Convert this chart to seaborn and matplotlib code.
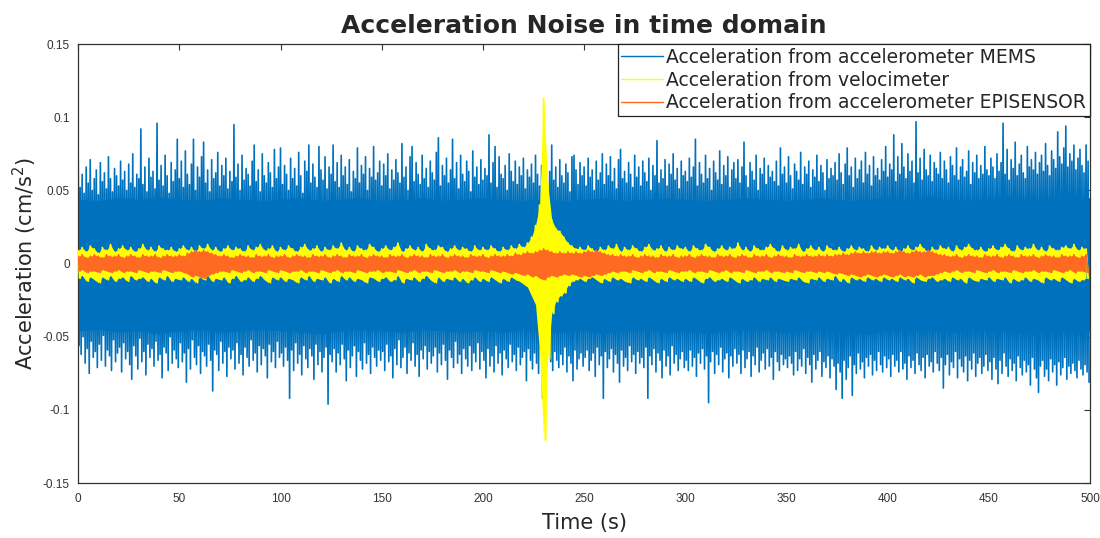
import matplotlib
matplotlib.use("Agg")
import matplotlib.pyplot as plt
import numpy as np
import pandas as pd
import seaborn as sns

# ---------------- data ----------------
MEMS_STEP = 1.0   # seconds between MEMS peak readings
STEP = 2.0        # seconds between velocimeter / EPISENSOR peak readings
CORE_STEP = 10.0  # seconds between readings of the solid MEMS core band
X_TICKS = [0, 50, 100, 150, 200, 250, 300, 350, 400, 450, 500]
Y_TICKS = [0.15, 0.1, 0.05, 0, -0.05, -0.1, -0.15]
Y_TICK_LABELS = ["0.15", "0.1", "0.05", "0", "-0.05", "-0.1", "-0.15"]
SERIES = ["Acceleration from accelerometer MEMS",
          "Acceleration from velocimeter",
          "Acceleration from accelerometer EPISENSOR"]

# MEMS positive peaks (t = 0, 1, 2, ... 499 s)
MEMS_UP = [
    0.087, 0.052, 0.061, 0.048, 0.066, 0.055, 0.071, 0.050, 0.058, 0.064, 0.047, 0.069, 0.056, 0.062, 0.051, 0.073, 0.058, 0.049, 0.065, 0.060, 0.053, 0.070, 0.057, 0.063, 0.050,
    0.068, 0.055, 0.075, 0.052, 0.061, 0.058, 0.092, 0.054, 0.066, 0.049, 0.072, 0.059, 0.063, 0.051, 0.096, 0.057, 0.067, 0.053, 0.074, 0.060, 0.048, 0.069, 0.056, 0.064, 0.085,
    0.058, 0.070, 0.052, 0.077, 0.061, 0.054, 0.068, 0.085, 0.050, 0.066, 0.059, 0.073, 0.083, 0.055, 0.064, 0.049, 0.071, 0.058, 0.062, 0.076, 0.053, 0.067, 0.060, 0.072, 0.051,
    0.063, 0.056, 0.095, 0.059, 0.068, 0.050, 0.074, 0.057, 0.065, 0.061, 0.053, 0.070, 0.081, 0.056, 0.064, 0.049, 0.075, 0.060, 0.055, 0.069, 0.062, 0.052, 0.078, 0.058, 0.066,
    0.079, 0.054, 0.067, 0.061, 0.050, 0.072, 0.058, 0.065, 0.053, 0.076, 0.060, 0.048, 0.070, 0.063, 0.081, 0.055, 0.068, 0.059, 0.052, 0.080, 0.064, 0.057, 0.073, 0.051, 0.066,
    0.061, 0.081, 0.056, 0.069, 0.052, 0.074, 0.060, 0.066, 0.054, 0.071, 0.049, 0.063, 0.058, 0.079, 0.055, 0.067, 0.061, 0.073, 0.050, 0.065, 0.059, 0.080, 0.057, 0.062, 0.070,
    0.053, 0.068, 0.060, 0.075, 0.051, 0.064, 0.057, 0.071, 0.062, 0.055, 0.082, 0.059, 0.066, 0.050, 0.073, 0.080, 0.056, 0.069, 0.061, 0.054, 0.074, 0.058, 0.065, 0.052, 0.070,
    0.062, 0.057, 0.076, 0.086, 0.053, 0.067, 0.060, 0.072, 0.055, 0.064, 0.085, 0.058, 0.069, 0.051, 0.074, 0.061, 0.056, 0.070, 0.063, 0.049, 0.077, 0.059, 0.066, 0.054, 0.071,
    0.057, 0.065, 0.060, 0.088, 0.055, 0.069, 0.080, 0.052, 0.073, 0.061, 0.058, 0.067, 0.050, 0.075, 0.063, 0.056, 0.070, 0.054, 0.066, 0.060, 0.072, 0.051, 0.064, 0.059, 0.068,
    0.055, 0.074, 0.061, 0.053, 0.067, 0.058, 0.070, 0.050, 0.063, 0.081, 0.057, 0.066, 0.052, 0.071, 0.060, 0.055, 0.068, 0.062, 0.049, 0.073, 0.074, 0.064, 0.054, 0.069, 0.060,
    0.066, 0.053, 0.072, 0.059, 0.064, 0.050, 0.070, 0.057, 0.062, 0.075, 0.054, 0.068, 0.060, 0.073, 0.056, 0.065, 0.051, 0.071, 0.078, 0.058, 0.063, 0.055, 0.069, 0.061, 0.052,
    0.074, 0.059, 0.066, 0.053, 0.070, 0.062, 0.056, 0.072, 0.050, 0.067, 0.060, 0.084, 0.055, 0.064, 0.058, 0.071, 0.053, 0.068, 0.061, 0.075, 0.057, 0.065, 0.051, 0.070, 0.060,
    0.063, 0.056, 0.072, 0.059, 0.066, 0.085, 0.053, 0.069, 0.061, 0.055, 0.074, 0.058, 0.065, 0.050, 0.070, 0.062, 0.057, 0.077, 0.054, 0.067, 0.060, 0.073, 0.052, 0.064, 0.069,
    0.058, 0.071, 0.055, 0.066, 0.083, 0.060, 0.052, 0.069, 0.063, 0.057, 0.074, 0.050, 0.065, 0.061, 0.072, 0.054, 0.067, 0.059, 0.063, 0.056, 0.070, 0.053, 0.079, 0.061, 0.066,
    0.055, 0.073, 0.060, 0.051, 0.068, 0.063, 0.057, 0.076, 0.054, 0.066, 0.061, 0.070, 0.052, 0.064, 0.059, 0.074, 0.056, 0.067, 0.062, 0.050, 0.071, 0.058, 0.065, 0.060, 0.069,
    0.057, 0.075, 0.062, 0.054, 0.068, 0.079, 0.060, 0.066, 0.052, 0.072, 0.058, 0.064, 0.070, 0.055, 0.076, 0.061, 0.067, 0.053, 0.073, 0.060, 0.065, 0.057, 0.071, 0.063, 0.080,
    0.059, 0.068, 0.064, 0.088, 0.056, 0.073, 0.061, 0.082, 0.066, 0.058, 0.075, 0.063, 0.070, 0.055, 0.097, 0.062, 0.072, 0.057, 0.078, 0.064, 0.060, 0.074, 0.056, 0.069, 0.065,
    0.061, 0.076, 0.058, 0.070, 0.064, 0.055, 0.073, 0.067, 0.060, 0.079, 0.057, 0.066, 0.071, 0.059, 0.063, 0.077, 0.054, 0.069, 0.062, 0.074, 0.058, 0.067, 0.061, 0.080, 0.064,
    0.060, 0.072, 0.066, 0.058, 0.075, 0.063, 0.069, 0.096, 0.061, 0.078, 0.057, 0.071, 0.065, 0.083, 0.060, 0.068, 0.074, 0.062, 0.058, 0.080, 0.066, 0.071, 0.064, 0.076, 0.061,
    0.069, 0.074, 0.063, 0.082, 0.067, 0.060, 0.077, 0.071, 0.065, 0.090, 0.073, 0.068, 0.079, 0.094, 0.066, 0.075, 0.070, 0.081, 0.064, 0.072, 0.078, 0.067, 0.062, 0.081, 0.070,
]
# MEMS negative peaks (t = 0.5, 1.5, ... 499.5 s)
MEMS_LO = [
    -0.056, -0.062, -0.050, -0.068, -0.058, -0.075, -0.053, -0.064, -0.060, -0.071, -0.055, -0.066, -0.049, -0.070, -0.059, -0.063, -0.073, -0.052, -0.067, -0.061, -0.057, -0.074, -0.054, -0.065, -0.060,
    -0.069, -0.079, -0.056, -0.063, -0.072, -0.051, -0.067, -0.060, -0.076, -0.055, -0.064, -0.058, -0.070, -0.053, -0.066, -0.062, -0.078, -0.057, -0.061, -0.073, -0.050, -0.068, -0.059, -0.065, -0.071,
    -0.054, -0.067, -0.061, -0.081, -0.058, -0.072, -0.052, -0.064, -0.069, -0.056, -0.075, -0.060, -0.063, -0.070, -0.055, -0.066, -0.087, -0.059, -0.062, -0.073, -0.053, -0.068, -0.060, -0.077, -0.057,
    -0.065, -0.059, -0.072, -0.054, -0.068, -0.062, -0.076, -0.057, -0.064, -0.070, -0.052, -0.066, -0.061, -0.074, -0.056, -0.069, -0.058, -0.063, -0.078, -0.055, -0.067, -0.060, -0.071, -0.053, -0.064,
    -0.061, -0.070, -0.057, -0.066, -0.092, -0.059, -0.073, -0.054, -0.068, -0.062, -0.076, -0.056, -0.065, -0.071, -0.058, -0.063, -0.079, -0.055, -0.069, -0.060, -0.074, -0.064, -0.057, -0.096, -0.062,
    -0.067, -0.058, -0.074, -0.061, -0.069, -0.055, -0.065, -0.080, -0.059, -0.071, -0.063, -0.056, -0.077, -0.060, -0.066, -0.072, -0.054, -0.068, -0.062, -0.075, -0.057, -0.064, -0.070, -0.059, -0.066,
    -0.060, -0.073, -0.055, -0.067, -0.063, -0.078, -0.058, -0.069, -0.052, -0.071, -0.064, -0.057, -0.075, -0.061, -0.066, -0.054, -0.070, -0.062, -0.077, -0.059, -0.065, -0.056, -0.072, -0.060, -0.068,
    -0.063, -0.057, -0.074, -0.061, -0.069, -0.055, -0.066, -0.079, -0.059, -0.064, -0.071, -0.053, -0.068, -0.062, -0.075, -0.058, -0.065, -0.070, -0.056, -0.073, -0.061, -0.067, -0.054, -0.072, -0.060,
    -0.066, -0.078, -0.058, -0.070, -0.063, -0.074, -0.056, -0.068, -0.061, -0.076, -0.059, -0.065, -0.071, -0.055, -0.067, -0.062, -0.073, -0.057, -0.069, -0.064, -0.060, -0.080, -0.058, -0.066, -0.072,
    -0.061, -0.068, -0.075, -0.058, -0.092, -0.064, -0.070, -0.056, -0.067, -0.073, -0.060, -0.066, -0.071, -0.062, -0.069, -0.057, -0.074, -0.063, -0.068, -0.080, -0.059, -0.072, -0.065, -0.061, -0.070,
    -0.064, -0.059, -0.073, -0.066, -0.061, -0.077, -0.057, -0.069, -0.063, -0.092, -0.060, -0.071, -0.065, -0.058, -0.074, -0.062, -0.068, -0.081, -0.059, -0.070, -0.064, -0.073, -0.056, -0.067, -0.062,
    -0.075, -0.060, -0.068, -0.064, -0.071, -0.057, -0.092, -0.063, -0.069, -0.058, -0.074, -0.061, -0.066, -0.078, -0.059, -0.070, -0.063, -0.076, -0.056, -0.068, -0.062, -0.073, -0.065, -0.060, -0.071,
    -0.066, -0.073, -0.059, -0.070, -0.064, -0.077, -0.061, -0.068, -0.058, -0.072, -0.063, -0.095, -0.067, -0.060, -0.075, -0.062, -0.069, -0.057, -0.074, -0.065, -0.061, -0.078, -0.063, -0.070, -0.058,
    -0.068, -0.062, -0.075, -0.059, -0.071, -0.065, -0.060, -0.077, -0.063, -0.069, -0.057, -0.074, -0.066, -0.061, -0.072, -0.058, -0.070, -0.064, -0.079, -0.060, -0.067, -0.073, -0.062, -0.069, -0.065,
    -0.071, -0.063, -0.068, -0.076, -0.060, -0.073, -0.065, -0.070, -0.058, -0.075, -0.064, -0.069, -0.081, -0.062, -0.072, -0.066, -0.060, -0.077, -0.067, -0.071, -0.063, -0.078, -0.065, -0.070, -0.086,
    -0.068, -0.074, -0.092, -0.066, -0.079, -0.071, -0.063, -0.090, -0.069, -0.075, -0.061, -0.072, -0.067, -0.078, -0.064, -0.070, -0.062, -0.076, -0.066, -0.073, -0.060, -0.069, -0.074, -0.063, -0.071,
    -0.065, -0.077, -0.062, -0.070, -0.066, -0.074, -0.060, -0.072, -0.068, -0.079, -0.063, -0.071, -0.066, -0.075, -0.061, -0.069, -0.073, -0.064, -0.078, -0.062, -0.070, -0.067, -0.074, -0.060, -0.068,
    -0.073, -0.064, -0.085, -0.069, -0.062, -0.076, -0.067, -0.071, -0.060, -0.078, -0.065, -0.070, -0.074, -0.063, -0.080, -0.066, -0.072, -0.061, -0.077, -0.068, -0.064, -0.075, -0.070, -0.062, -0.073,
    -0.067, -0.079, -0.064, -0.072, -0.082, -0.066, -0.075, -0.061, -0.070, -0.077, -0.065, -0.073, -0.068, -0.080, -0.063, -0.071, -0.076, -0.066, -0.074, -0.069, -0.083, -0.064, -0.072, -0.078, -0.088,
    -0.070, -0.066, -0.077, -0.072, -0.080, -0.065, -0.074, -0.069, -0.083, -0.067, -0.076, -0.071, -0.064, -0.079, -0.070, -0.075, -0.068, -0.073, -0.078, -0.066, -0.072, -0.076, -0.069, -0.074, -0.081,
]
# solid core of the MEMS band (t = 0, 10, ... 500 s)
MEMS_CORE_UP = [0.044, 0.043, 0.045, 0.044, 0.046, 0.044, 0.043, 0.045, 0.044, 0.043, 0.044,
                0.045, 0.043, 0.044, 0.045, 0.043, 0.044, 0.045, 0.043, 0.044, 0.045, 0.044,
                0.043, 0.044, 0.043, 0.044, 0.045, 0.043, 0.044, 0.045, 0.044, 0.043, 0.044,
                0.045, 0.044, 0.043, 0.044, 0.045, 0.043, 0.044, 0.045, 0.044, 0.046, 0.044,
                0.043, 0.045, 0.046, 0.044, 0.045, 0.046, 0.045]
MEMS_CORE_LO = [-0.046, -0.045, -0.047, -0.046, -0.048, -0.046, -0.045, -0.047, -0.046, -0.045, -0.046,
                -0.047, -0.048, -0.046, -0.045, -0.046, -0.047, -0.045, -0.046, -0.047, -0.046, -0.047,
                -0.045, -0.046, -0.047, -0.046, -0.048, -0.046, -0.045, -0.047, -0.046, -0.048, -0.046,
                -0.045, -0.046, -0.047, -0.046, -0.045, -0.047, -0.048, -0.046, -0.045, -0.046, -0.047,
                -0.046, -0.045, -0.047, -0.048, -0.046, -0.047, -0.046]
# velocimeter positive / negative peaks (t = 0, 2, ... 498 s)
VEL_UP = [
    0.009, 0.011, 0.008, 0.012, 0.010, 0.007, 0.011, 0.009, 0.013, 0.008, 0.010, 0.012, 0.009, 0.011, 0.008, 0.010, 0.013, 0.009, 0.011, 0.008, 0.012, 0.010, 0.009, 0.011, 0.008,
    0.010, 0.012, 0.009, 0.011, 0.008, 0.012, 0.010, 0.013, 0.009, 0.011, 0.008, 0.010, 0.012, 0.009, 0.011, 0.010, 0.008, 0.012, 0.009, 0.011, 0.013, 0.009, 0.010, 0.012, 0.008,
    0.011, 0.009, 0.012, 0.010, 0.008, 0.011, 0.013, 0.009, 0.010, 0.012, 0.008, 0.011, 0.009, 0.012, 0.010, 0.014, 0.009, 0.011, 0.008, 0.012, 0.010, 0.009, 0.013, 0.011, 0.008,
    0.010, 0.012, 0.009, 0.011, 0.014, 0.008, 0.010, 0.012, 0.009, 0.011, 0.008, 0.013, 0.010, 0.009, 0.012, 0.011, 0.008, 0.010, 0.012, 0.009, 0.011, 0.010, 0.008, 0.012, 0.009,
    0.011, 0.009, 0.012, 0.010, 0.008, 0.011, 0.009, 0.012, 0.010, 0.013, 0.011, 0.014, 0.018, 0.026, 0.040, 0.113, 0.055, 0.030, 0.024, 0.022, 0.018, 0.014, 0.012, 0.010, 0.011,
    0.009, 0.012, 0.010, 0.008, 0.011, 0.009, 0.012, 0.010, 0.013, 0.008, 0.011, 0.009, 0.012, 0.010, 0.008, 0.011, 0.013, 0.009, 0.010, 0.012, 0.008, 0.011, 0.009, 0.012, 0.010,
    0.011, 0.008, 0.012, 0.010, 0.009, 0.013, 0.011, 0.008, 0.010, 0.012, 0.009, 0.011, 0.010, 0.014, 0.009, 0.011, 0.008, 0.012, 0.010, 0.009, 0.011, 0.013, 0.010, 0.008, 0.012,
    0.009, 0.011, 0.010, 0.013, 0.008, 0.010, 0.012, 0.009, 0.011, 0.008, 0.012, 0.010, 0.009, 0.011, 0.008, 0.010, 0.012, 0.009, 0.011, 0.010, 0.008, 0.012, 0.009, 0.011, 0.010,
    0.012, 0.009, 0.011, 0.008, 0.010, 0.012, 0.009, 0.011, 0.013, 0.010, 0.008, 0.011, 0.009, 0.012, 0.010, 0.011, 0.008, 0.012, 0.009, 0.011, 0.013, 0.010, 0.009, 0.011, 0.008,
    0.010, 0.012, 0.009, 0.011, 0.013, 0.010, 0.008, 0.012, 0.009, 0.011, 0.010, 0.013, 0.009, 0.011, 0.008, 0.012, 0.010, 0.009, 0.011, 0.012, 0.010, 0.013, 0.009, 0.011, 0.010,
]
VEL_LO = [
    -0.010, -0.008, -0.012, -0.009, -0.011, -0.013, -0.009, -0.011, -0.008, -0.012, -0.010, -0.009, -0.012, -0.008, -0.011, -0.010, -0.009, -0.012, -0.010, -0.013, -0.009, -0.011, -0.008, -0.012, -0.010,
    -0.011, -0.009, -0.012, -0.010, -0.013, -0.009, -0.011, -0.008, -0.012, -0.010, -0.011, -0.009, -0.013, -0.010, -0.008, -0.012, -0.011, -0.009, -0.012, -0.010, -0.008, -0.011, -0.013, -0.009, -0.011,
    -0.009, -0.012, -0.010, -0.011, -0.013, -0.009, -0.011, -0.008, -0.012, -0.010, -0.011, -0.009, -0.013, -0.010, -0.012, -0.008, -0.011, -0.009, -0.012, -0.010, -0.011, -0.013, -0.009, -0.010, -0.012,
    -0.010, -0.009, -0.012, -0.011, -0.008, -0.013, -0.010, -0.011, -0.009, -0.012, -0.010, -0.008, -0.011, -0.013, -0.009, -0.012, -0.010, -0.011, -0.009, -0.012, -0.010, -0.013, -0.011, -0.009, -0.012,
    -0.010, -0.012, -0.009, -0.011, -0.013, -0.010, -0.012, -0.009, -0.011, -0.012, -0.014, -0.016, -0.022, -0.028, -0.060, -0.121, -0.065, -0.034, -0.026, -0.022, -0.020, -0.015, -0.012, -0.011, -0.010,
    -0.012, -0.010, -0.009, -0.011, -0.013, -0.010, -0.012, -0.009, -0.011, -0.010, -0.012, -0.013, -0.009, -0.011, -0.010, -0.012, -0.009, -0.011, -0.013, -0.010, -0.012, -0.009, -0.011, -0.010, -0.012,
    -0.010, -0.012, -0.009, -0.011, -0.013, -0.010, -0.009, -0.012, -0.011, -0.010, -0.012, -0.009, -0.011, -0.013, -0.010, -0.012, -0.011, -0.009, -0.012, -0.010, -0.011, -0.009, -0.012, -0.010, -0.011,
    -0.012, -0.010, -0.011, -0.009, -0.012, -0.013, -0.010, -0.011, -0.009, -0.012, -0.010, -0.011, -0.008, -0.012, -0.010, -0.013, -0.009, -0.011, -0.010, -0.012, -0.009, -0.011, -0.010, -0.012, -0.009,
    -0.011, -0.010, -0.012, -0.009, -0.011, -0.010, -0.013, -0.009, -0.011, -0.012, -0.010, -0.009, -0.012, -0.011, -0.010, -0.012, -0.009, -0.011, -0.010, -0.013, -0.009, -0.011, -0.012, -0.010, -0.011,
    -0.009, -0.012, -0.010, -0.011, -0.009, -0.013, -0.010, -0.012, -0.011, -0.009, -0.012, -0.010, -0.011, -0.013, -0.009, -0.011, -0.010, -0.012, -0.009, -0.011, -0.013, -0.010, -0.012, -0.011, -0.010,
]
# EPISENSOR positive / negative peaks (t = 0, 2, ... 498 s)
EPI_UP = [
    0.005, 0.006, 0.004, 0.005, 0.006, 0.005, 0.004, 0.006, 0.005, 0.005, 0.006, 0.004, 0.005, 0.006, 0.005, 0.004, 0.006, 0.005, 0.005, 0.006, 0.004, 0.005, 0.006, 0.005, 0.005,
    0.006, 0.005, 0.007, 0.008, 0.009, 0.008, 0.009, 0.008, 0.007, 0.006, 0.005, 0.006, 0.005, 0.004, 0.005, 0.006, 0.005, 0.005, 0.004, 0.006, 0.005, 0.005, 0.006, 0.004, 0.005,
    0.005, 0.006, 0.004, 0.005, 0.006, 0.005, 0.005, 0.004, 0.006, 0.005, 0.005, 0.006, 0.004, 0.005, 0.006, 0.005, 0.004, 0.006, 0.005, 0.005, 0.006, 0.004, 0.005, 0.006, 0.005,
    0.005, 0.004, 0.006, 0.005, 0.005, 0.006, 0.004, 0.005, 0.006, 0.005, 0.005, 0.004, 0.006, 0.005, 0.005, 0.006, 0.004, 0.005, 0.006, 0.005, 0.005, 0.004, 0.006, 0.005, 0.005,
    0.006, 0.004, 0.005, 0.006, 0.005, 0.005, 0.006, 0.005, 0.007, 0.006, 0.007, 0.008, 0.007, 0.008, 0.009, 0.010, 0.009, 0.008, 0.007, 0.008, 0.007, 0.008, 0.007, 0.008, 0.007,
    0.008, 0.009, 0.008, 0.009, 0.008, 0.007, 0.006, 0.006, 0.005, 0.006, 0.005, 0.005, 0.006, 0.004, 0.005, 0.006, 0.005, 0.005, 0.004, 0.006, 0.005, 0.005, 0.006, 0.004, 0.005,
    0.005, 0.006, 0.004, 0.005, 0.006, 0.005, 0.005, 0.004, 0.006, 0.005, 0.005, 0.006, 0.004, 0.005, 0.006, 0.005, 0.004, 0.006, 0.005, 0.005, 0.006, 0.004, 0.005, 0.006, 0.005,
    0.005, 0.004, 0.006, 0.005, 0.005, 0.006, 0.005, 0.005, 0.006, 0.005, 0.006, 0.005, 0.006, 0.006, 0.007, 0.006, 0.007, 0.008, 0.007, 0.008, 0.007, 0.008, 0.008, 0.007, 0.008,
    0.008, 0.007, 0.008, 0.009, 0.008, 0.007, 0.008, 0.009, 0.008, 0.008, 0.009, 0.008, 0.007, 0.006, 0.006, 0.005, 0.005, 0.006, 0.004, 0.005, 0.006, 0.005, 0.005, 0.004, 0.006,
    0.005, 0.005, 0.006, 0.004, 0.005, 0.006, 0.005, 0.004, 0.006, 0.005, 0.005, 0.006, 0.004, 0.005, 0.006, 0.005, 0.005, 0.004, 0.006, 0.005, 0.005, 0.006, 0.004, 0.005, 0.006,
]
EPI_LO = [
    -0.005, -0.004, -0.006, -0.005, -0.005, -0.006, -0.004, -0.005, -0.006, -0.005, -0.004, -0.006, -0.005, -0.005, -0.006, -0.004, -0.005, -0.006, -0.005, -0.005, -0.006, -0.004, -0.005, -0.006, -0.005,
    -0.005, -0.006, -0.007, -0.009, -0.008, -0.009, -0.010, -0.008, -0.007, -0.006, -0.005, -0.005, -0.006, -0.004, -0.005, -0.006, -0.005, -0.004, -0.006, -0.005, -0.005, -0.006, -0.004, -0.005, -0.006,
    -0.004, -0.005, -0.006, -0.005, -0.005, -0.004, -0.006, -0.005, -0.005, -0.006, -0.004, -0.005, -0.006, -0.005, -0.004, -0.006, -0.005, -0.005, -0.006, -0.004, -0.005, -0.006, -0.005, -0.005, -0.004,
    -0.006, -0.005, -0.005, -0.006, -0.004, -0.005, -0.006, -0.005, -0.004, -0.006, -0.005, -0.005, -0.006, -0.004, -0.005, -0.006, -0.005, -0.005, -0.004, -0.006, -0.005, -0.005, -0.006, -0.004, -0.005,
    -0.005, -0.006, -0.004, -0.005, -0.006, -0.005, -0.006, -0.007, -0.006, -0.007, -0.008, -0.007, -0.009, -0.008, -0.010, -0.011, -0.009, -0.008, -0.009, -0.008, -0.007, -0.008, -0.007, -0.008, -0.009,
    -0.008, -0.009, -0.008, -0.007, -0.008, -0.007, -0.006, -0.005, -0.006, -0.005, -0.005, -0.006, -0.004, -0.005, -0.006, -0.005, -0.004, -0.006, -0.005, -0.005, -0.006, -0.004, -0.005, -0.006, -0.005,
    -0.005, -0.004, -0.006, -0.005, -0.005, -0.006, -0.004, -0.005, -0.006, -0.005, -0.004, -0.006, -0.005, -0.005, -0.006, -0.004, -0.005, -0.006, -0.005, -0.005, -0.004, -0.006, -0.005, -0.005, -0.006,
    -0.005, -0.006, -0.004, -0.005, -0.006, -0.005, -0.005, -0.006, -0.005, -0.006, -0.005, -0.006, -0.007, -0.006, -0.007, -0.008, -0.007, -0.008, -0.009, -0.008, -0.007, -0.008, -0.009, -0.008, -0.007,
    -0.008, -0.009, -0.008, -0.007, -0.009, -0.008, -0.009, -0.008, -0.007, -0.009, -0.008, -0.008, -0.007, -0.006, -0.005, -0.006, -0.005, -0.004, -0.006, -0.005, -0.005, -0.006, -0.004, -0.005, -0.006,
    -0.005, -0.004, -0.006, -0.005, -0.005, -0.006, -0.004, -0.005, -0.006, -0.005, -0.005, -0.004, -0.006, -0.005, -0.005, -0.006, -0.004, -0.005, -0.006, -0.005, -0.004, -0.006, -0.005, -0.005, -0.006,
]

COLORS = ["#0072BD", "#FFFF00", "#FF6A22"]


def trace(up, lo, step, label):
    """Alternate each positive peak (at t) with its negative peak (at t + step/2)."""
    t, v = [], []
    for i, (a, b) in enumerate(zip(up, lo)):
        t += [i * step, i * step + step / 2]
        v += [a, b]
    return pd.DataFrame({"Time": t, "Acc": v, "Series": label})


df = pd.concat([trace(MEMS_UP, MEMS_LO, MEMS_STEP, SERIES[0]),
                trace(VEL_UP, VEL_LO, STEP, SERIES[1]),
                trace(EPI_UP, EPI_LO, STEP, SERIES[2])], ignore_index=True)

# ---------------- figure ----------------
sns.set_style("white")
plt.rcParams["font.family"] = ["DejaVu Sans"]

fig = plt.figure(figsize=(11.0, 5.38), dpi=100)
ax = fig.add_axes([0.071, 0.102, 0.92, 0.816])

t_core = [i * CORE_STEP for i in range(len(MEMS_CORE_UP))]
t_peak = [i * STEP for i in range(len(VEL_UP))]

# MEMS: solid core band + spiky trace
ax.fill_between(t_core, MEMS_CORE_LO, MEMS_CORE_UP, color=COLORS[0], lw=0, zorder=1)
sns.lineplot(data=df[df.Series == SERIES[0]], x="Time", y="Acc", color=COLORS[0],
             sort=False, estimator=None, linewidth=1.2, ax=ax, label=SERIES[0], zorder=2)
# velocimeter
ax.fill_between(t_peak, VEL_LO, VEL_UP, color=COLORS[1], lw=0, zorder=3)
sns.lineplot(data=df[df.Series == SERIES[1]], x="Time", y="Acc", color=COLORS[1],
             sort=False, estimator=None, linewidth=1.3, ax=ax, label=SERIES[1], zorder=4)
# EPISENSOR
ax.fill_between(t_peak, EPI_LO, EPI_UP, color=COLORS[2], lw=0, zorder=5)
sns.lineplot(data=df[df.Series == SERIES[2]], x="Time", y="Acc", color=COLORS[2],
             sort=False, estimator=None, linewidth=1.3, ax=ax, label=SERIES[2], zorder=6)

ax.set_xlim(0, 500)
ax.set_ylim(-0.15, 0.15)
ax.set_xticks(X_TICKS)
ax.set_xticklabels([str(x) for x in X_TICKS], family="Liberation Sans")
ax.set_yticks(Y_TICKS)
ax.set_yticklabels(Y_TICK_LABELS, family="Liberation Sans")
ax.tick_params(direction="in", length=4, width=0.8, top=True, right=True,
               labelsize=8.5, colors="#333333", labelcolor="#333333")
ax.tick_params(axis="x", pad=7)
ax.tick_params(axis="y", pad=6)
for sp in ax.spines.values():
    sp.set_visible(True)
    sp.set_color("#333333")
    sp.set_linewidth(0.9)

ax.set_title("Acceleration Noise in time domain", fontsize=18, fontweight="bold", pad=8)
ax.set_xlabel("Time (s)", fontsize=15, labelpad=6)
ax.set_ylabel("Acceleration (cm/s$^2$)", fontsize=15, labelpad=3)

handles, labels = ax.get_legend_handles_labels()
leg = ax.legend(handles[:3], labels[:3], loc="upper right", fontsize=13.5,
                frameon=True, fancybox=False, framealpha=1, edgecolor="#222222",
                borderaxespad=0, handlelength=2.2, handletextpad=0.2,
                borderpad=0.2, labelspacing=0.2)
leg.get_frame().set_linewidth(0.9)
for h in leg.get_lines():
    h.set_linewidth(1.0)

fig.savefig("out.png", dpi=100)
